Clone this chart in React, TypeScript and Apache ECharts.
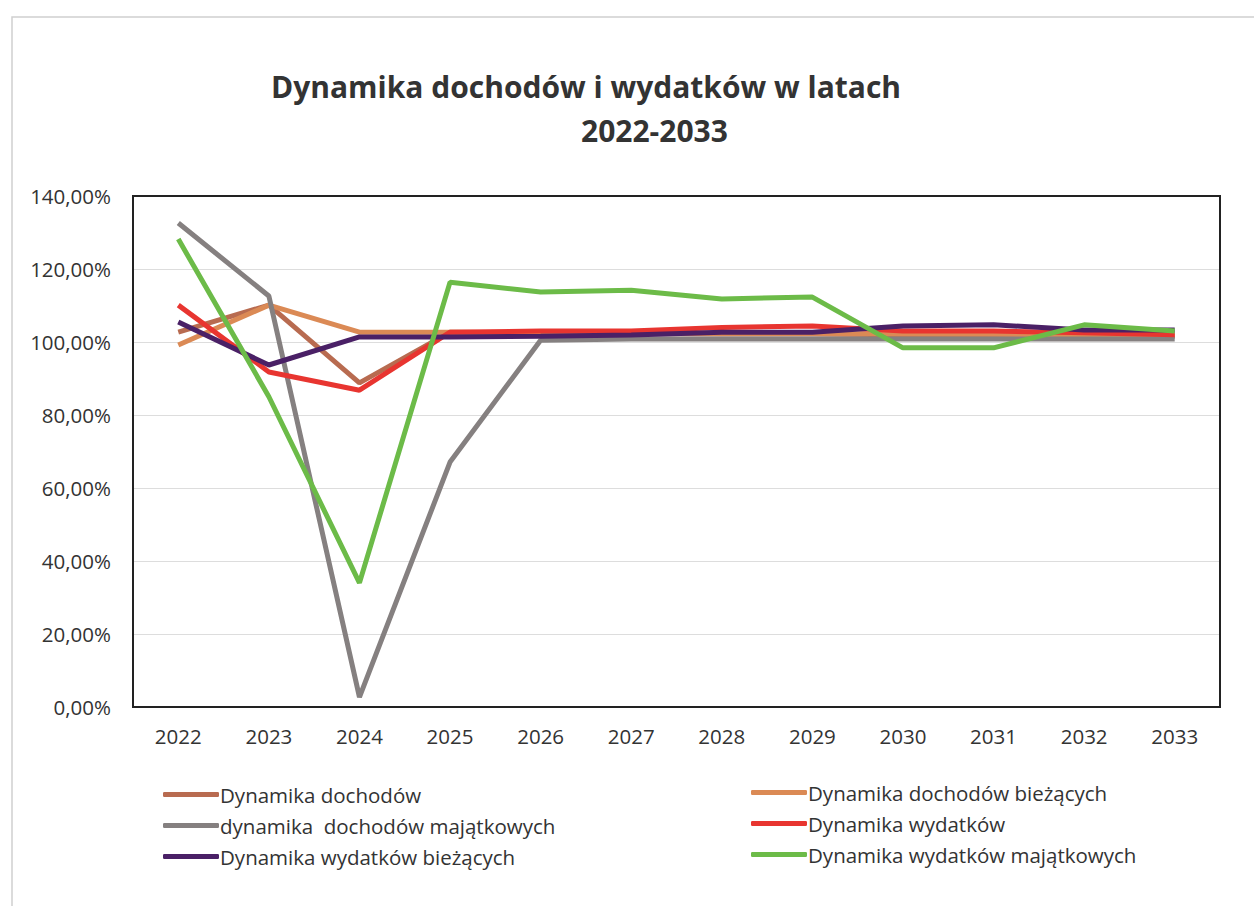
import React, { useEffect, useRef } from "react";
import * as echarts from "echarts";

const years = ["2022", "2023", "2024", "2025", "2026", "2027", "2028", "2029", "2030", "2031", "2032", "2033"];
const dochody = [102.7, 110.1, 88.8, 102.7, 102.5, 102.3, 102.2, 102.2, 102.0, 102.0, 101.8, 101.6];
const dochodyBiezace = [99.2, 110.1, 102.7, 102.7, 102.6, 102.4, 102.3, 102.3, 102.2, 102.1, 101.9, 101.7];
const dochodyMajatkowe = [132.6, 112.6, 2.7, 67.1, 100.5, 100.8, 100.8, 100.8, 100.8, 100.8, 100.8, 100.8];
const wydatki = [110.1, 91.8, 86.8, 102.7, 103.0, 103.0, 104.0, 104.4, 103.0, 103.0, 102.5, 102.0];
const wydatkiBiezace = [105.5, 93.7, 101.4, 101.4, 101.6, 101.9, 102.7, 102.7, 104.4, 104.7, 103.3, 103.3];
const wydatkiMajatkowe = [128.2, 85.0, 34.0, 116.4, 113.7, 114.2, 111.8, 112.3, 98.4, 98.4, 104.7, 103.0];

const names = [
  "Dynamika dochodów",
  "Dynamika dochodów bieżących",
  "dynamika  dochodów majątkowych",
  "Dynamika wydatków",
  "Dynamika wydatków bieżących",
  "Dynamika wydatków majątkowych",
];
const colors = ["#B86B50", "#DB8A55", "#858080", "#E83530", "#4A2066", "#6CBB48"];
const seriesData = [dochody, dochodyBiezace, dochodyMajatkowe, wydatki, wydatkiBiezace, wydatkiMajatkowe];

export default function App() {
  const ref = useRef<HTMLDivElement>(null);
  useEffect(() => {
    document.body.style.margin = "0";
    const chart = echarts.init(ref.current!, null, { renderer: "svg" });
    const font = "'Open Sans', 'DejaVu Sans', sans-serif";
    chart.setOption({
      animation: false,
      backgroundColor: "#ffffff",
      textStyle: { fontFamily: font },
      title: [
        {
          text: "Dynamika dochodów i wydatków w latach",
          left: 266,
          top: 66,
          textStyle: { fontFamily: font, fontSize: 30, fontWeight: "bold", color: "#333333" },
        },
        {
          text: "2022-2033",
          left: 576,
          top: 110,
          textStyle: { fontFamily: font, fontSize: 30, fontWeight: "bold", color: "#333333" },
        },
      ],
      graphic: [
        {
          type: "rect",
          shape: { x: 12, y: 17, width: 1250, height: 900 },
          style: { fill: "none", stroke: "#d0d0d0", lineWidth: 1.5 },
          silent: true,
        },
        {
          type: "rect",
          shape: { x: 133, y: 196, width: 1087, height: 511 },
          style: { fill: "none", stroke: "#222222", lineWidth: 2 },
          silent: true,
          z: 10,
        },
      ],
      legend: [
        {
          orient: "vertical",
          left: 158,
          top: 779,
          itemWidth: 56,
          itemHeight: 5,
          itemGap: 10,
          icon: "roundRect",
          data: [names[0], names[2], names[4]],
          textStyle: { fontFamily: font, fontSize: 20.5, color: "#333333", padding: [0, 0, 0, -4] },
        },
        {
          orient: "vertical",
          left: 746,
          top: 777,
          itemWidth: 56,
          itemHeight: 5,
          itemGap: 10,
          icon: "roundRect",
          data: [names[1], names[3], names[5]],
          textStyle: { fontFamily: font, fontSize: 20.5, color: "#333333", padding: [0, 0, 0, -4] },
        },
      ],
      grid: { left: 133, top: 196, width: 1087, height: 511, containLabel: false },
      xAxis: {
        type: "category",
        data: years,
        boundaryGap: true,
        axisLine: { show: false },
        axisTick: { show: false },
        axisLabel: { fontFamily: font, fontSize: 20.5, color: "#333333", margin: 18 },
      },
      yAxis: {
        type: "value",
        min: 0,
        max: 140,
        interval: 20,
        axisLine: { show: false },
        axisTick: { show: false },
        splitLine: { lineStyle: { color: "#dddddd", width: 1 } },
        axisLabel: {
          fontFamily: font,
          fontSize: 20.5,
          color: "#333333",
          margin: 22,
          formatter: (v: number) => v.toFixed(2).replace(".", ",") + "%",
        },
      },
      series: names.map((n, i) => ({
        name: n,
        type: "line",
        data: seriesData[i],
        showSymbol: false,
        symbol: "none",
        color: colors[i],
        lineStyle: { width: 5, color: colors[i] },
        z: 2 + i,
      })),
    });
    return () => chart.dispose();
  }, []);
  return <div ref={ref} style={{ width: 1254, height: 906 }} />;
}
